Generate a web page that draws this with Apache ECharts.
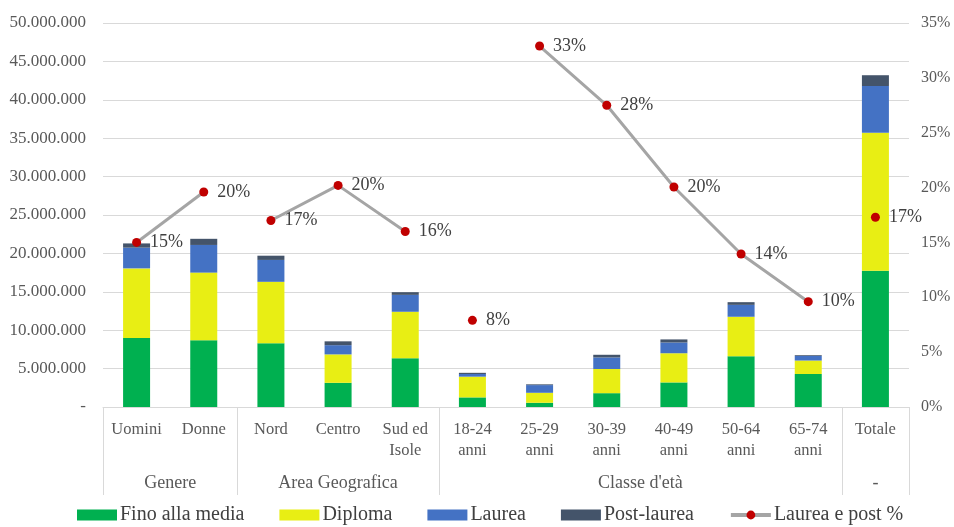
<!DOCTYPE html>
<html>
<head>
<meta charset="utf-8">
<script src="https://cdn.jsdelivr.net/npm/echarts@6/dist/echarts.min.js"></script>
<style>
  html, body { margin: 0; padding: 0; background: #fff; }
  #chart { width: 954px; height: 527px; }
</style>
</head>
<body>
<div id="chart"></div>
<script>
// categorie (asse x)
const categories = ['Uomini', 'Donne', 'Nord', 'Centro', 'Sud ed\nIsole',
    '18-24\nanni', '25-29\nanni', '30-39\nanni', '40-49\nanni', '50-64\nanni', '65-74\nanni', 'Totale'];
// gruppi del secondo livello e numero di categorie per gruppo
const groups = ['Genere', 'Area Geografica', "Classe d'età", '-'];
const groupSizes = [2, 3, 6, 1];

// valori (persone)
const finoMedia = [9000000, 8700000, 8300000, 3150000, 6350000, 1250000, 550000, 1800000, 3200000, 6600000, 4300000, 17750000];
const diploma = [9050000, 8800000, 8000000, 3700000, 6050000, 2700000, 1300000, 3150000, 3800000, 5150000, 1750000, 17950000];
const laurea = [2700000, 3600000, 2850000, 1200000, 2200000, 350000, 1000000, 1500000, 1400000, 1550000, 600000, 6100000];
const postLaurea = [550000, 800000, 550000, 500000, 350000, 150000, 100000, 350000, 400000, 350000, 100000, 1400000];
// quota laurea e post-laurea
const laureaPct = [0.15, 0.196, 0.17, 0.202, 0.16, 0.079, 0.329, 0.275, 0.2005, 0.1395, 0.096, 0.173];
// tratti della linea (indici inizio-fine)
const lineSegments = [[0, 1], [2, 4], [5, 5], [6, 10], [11, 11]];

const yTicks = { min: 0, max: 50000000, interval: 5000000 };
const pctTicks = { min: 0, max: 0.35, interval: 0.05 };

const FONT = 'Liberation Serif';
const TXT = '#595959';

function fmtNum(v) {
    if (v === 0) return '-';
    return String(v).replace(/\B(?=(\d{3})+(?!\d))/g, '.');
}

// posizioni dei confini e centri dei gruppi
let boundaries = [];
let groupCenters = {};
let acc = 0;
groupSizes.forEach(function (s, i) {
    boundaries.push(acc);
    groupCenters[acc + s / 2] = groups[i];
    acc += s;
});

let chart = echarts.init(document.getElementById('chart'));

const barDefs = [
    { name: 'Fino alla media', data: finoMedia, color: '#00b050' },
    { name: 'Diploma', data: diploma, color: '#e8ee14' },
    { name: 'Laurea', data: laurea, color: '#4472c4' },
    { name: 'Post-laurea', data: postLaurea, color: '#44546a' }
];
const barSeries = barDefs.map(function (s) {
    return {
        name: s.name,
        type: 'bar',
        stack: 'tot',
        barWidth: 27,
        data: s.data,
        itemStyle: { color: s.color },
        z: 2
    };
});

const lineSeries = lineSegments.map(function (seg) {
    return {
        name: 'Laurea e post %',
        type: 'line',
        yAxisIndex: 1,
        data: laureaPct.map(function (v, i) { return (i >= seg[0] && i <= seg[1]) ? v : null; }),
        symbol: 'circle',
        symbolSize: 9,
        lineStyle: { color: '#a5a5a5', width: 3 },
        itemStyle: { color: '#c00000' },
        label: {
            show: true,
            position: 'right',
            distance: 9,
            fontFamily: FONT,
            fontSize: 18,
            color: '#404040',
            formatter: function (p) { return Math.round(p.value * 100) + '%'; }
        },
        z: 5
    };
});

let legendData = barDefs.map(function (s) { return { name: s.name, icon: 'rect' }; });
legendData.push({ name: 'Laurea e post %', lineStyle: { width: 4, color: '#a5a5a5' } });

let option = {
    backgroundColor: '#fff',
    animation: false,
    grid: { left: 103, right: 45, top: 23, bottom: 120 },
    legend: {
        bottom: -3,
        left: 72,
        itemWidth: 40,
        itemHeight: 11,
        itemGap: 35,
        textStyle: { fontFamily: FONT, fontSize: 20, color: '#404040', padding: [0, 0, 0, -2] },
        data: legendData
    },
    xAxis: [{
        type: 'category',
        data: categories,
        axisLine: { lineStyle: { color: '#d9d9d9' } },
        axisTick: {
            show: true,
            length: 88,
            interval: function (i) { return boundaries.indexOf(i) >= 0; },
            lineStyle: { color: '#d9d9d9' }
        },
        axisLabel: {
            interval: 0,
            margin: 12,
            fontFamily: FONT,
            fontSize: 16.5,
            lineHeight: 21,
            color: TXT
        }
    }, {
        type: 'value',
        position: 'bottom',
        min: 0,
        max: categories.length,
        interval: 0.5,
        axisLine: { show: false },
        axisTick: { show: false },
        splitLine: { show: false },
        axisLabel: {
            margin: 67,
            fontFamily: FONT,
            fontSize: 18,
            color: TXT,
            formatter: function (v) { return groupCenters[v] || ''; }
        }
    }],
    yAxis: [{
        type: 'value',
        min: yTicks.min,
        max: yTicks.max,
        interval: yTicks.interval,
        axisLine: { show: false },
        axisTick: { show: false },
        splitLine: { lineStyle: { color: '#d9d9d9' } },
        axisLabel: {
            margin: 17,
            fontFamily: FONT,
            fontSize: 17,
            color: TXT,
            formatter: fmtNum
        }
    }, {
        type: 'value',
        min: pctTicks.min,
        max: pctTicks.max,
        interval: pctTicks.interval,
        axisLine: { show: false },
        axisTick: { show: false },
        splitLine: { show: false },
        axisLabel: {
            margin: 12,
            fontFamily: FONT,
            fontSize: 16,
            color: TXT,
            formatter: function (v) { return Math.round(v * 100) + '%'; }
        }
    }],
    series: barSeries.concat(lineSeries)
};

chart.setOption(option);
</script>
</body>
</html>
